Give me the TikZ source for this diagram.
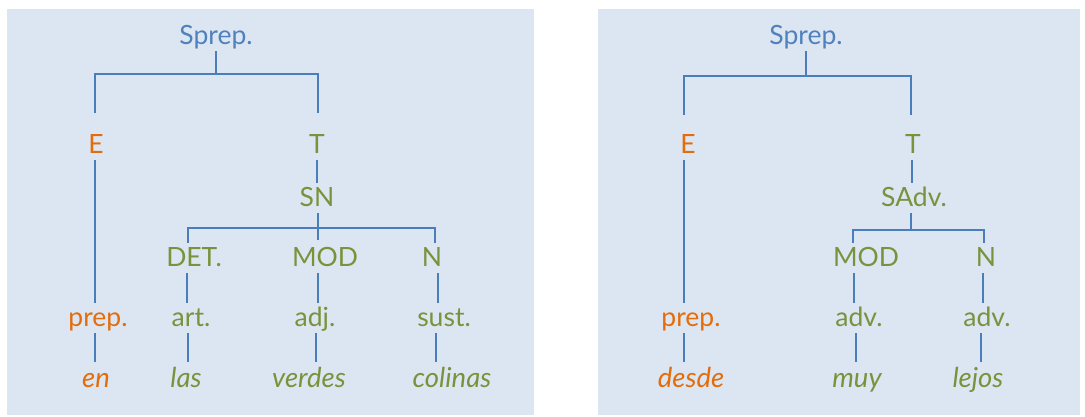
\documentclass[tikz,border=0pt]{standalone}
\usepackage{fontspec}
\setmainfont{Lato}
\definecolor{bgpanel}{HTML}{DCE6F2}
\definecolor{lineblue}{HTML}{4A7EBB}
\definecolor{txtblue}{HTML}{4F81BD}
\definecolor{txtorange}{HTML}{E46C0A}
\definecolor{txtgreen}{HTML}{77933C}
\tikzset{
  lbl/.style={anchor=base, inner sep=0pt, text height=23pt, text depth=7pt, font=\fontsize{26.5}{30}\selectfont},
  rootlbl/.style={lbl, text=txtblue},
  orlbl/.style={lbl, text=txtorange},
  grlbl/.style={lbl, text=txtgreen},
  orword/.style={orlbl, font=\fontsize{27.5}{30}\selectfont\itshape},
  grword/.style={grlbl, font=\fontsize{27.5}{30}\selectfont\itshape},
  ln/.style={draw=lineblue, line width=1.2pt}
}
\begin{document}
\begin{tikzpicture}[x=1pt,y=-1pt]
\useasboundingbox (0,0) rectangle (1085,416);
\fill[white] (0,0) rectangle (1085,416);
\fill[bgpanel] (7,9) rectangle (534,415);
\fill[bgpanel] (598,9) rectangle (1080,415);

% ---------- left tree ----------
\node[rootlbl] (sprepL) at (216,44) {Sprep.};
\node[orlbl] (EL) at (96,153) {E};
\node[grlbl] (TL) at (317,153) {T};
\node[grlbl] (SNL) at (317,206) {SN};
\node[grlbl] (detL) at (194,266) {DET.};
\node[grlbl] (modL) at (325,266) {MOD};
\node[grlbl] (nL) at (432,266) {N};
\node[orlbl] (prepL) at (98,326) {prep.};
\node[grlbl] (artL) at (191,326) {art.};
\node[grlbl] (adjL) at (315,326) {adj.};
\node[grlbl] (sustL) at (444,326) {sust.};
\node[orword] (enL) at (96,387) {en};
\node[grword] (lasL) at (186,387) {las};
\node[grword] (verdesL) at (309,387) {verdes};
\node[grword] (colinasL) at (452,387) {colinas};

\coordinate (jL) at (216,74);
\coordinate (kL) at (318,228);
\draw[ln] (sprepL.south) -- (jL);
\draw[ln] ([xshift=-1pt,yshift=17pt]EL.north) |- (jL) -| ([xshift=1pt,yshift=17pt]TL.north);
\draw[ln] ([xshift=-1pt]EL.south) -- ([xshift=-3pt]prepL.north);
\draw[ln] (TL.south) -- (SNL.north);
\draw[ln] ([xshift=1pt]SNL.south) -- ([xshift=-7pt,yshift=3pt]modL.north);
\draw[ln] ([xshift=-6pt]detL.north) |- (kL) -| ([xshift=3pt]nL.north);
\draw[ln] ([xshift=-7pt]detL.south) -- ([xshift=-4pt]artL.north);
\draw[ln] ([xshift=-7pt]modL.south) -- ([xshift=3pt]adjL.north);
\draw[ln] ([xshift=6pt]nL.south) -- ([xshift=-6pt]sustL.north);
\draw[ln] ([xshift=-3pt]prepL.south) -- ([xshift=-1pt,yshift=2pt]enL.north);
\draw[ln] ([xshift=-3pt]artL.south) -- ([xshift=2pt,yshift=2pt]lasL.north);
\draw[ln] ([xshift=1pt]adjL.south) -- ([xshift=7pt,yshift=2pt]verdesL.north);
\draw[ln] ([xshift=-8pt]sustL.south) -- ([xshift=-16pt,yshift=2pt]colinasL.north);

% ---------- right tree ----------
\node[rootlbl] (sprepR) at (806,44) {Sprep.};
\node[orlbl] (ER) at (688,153) {E};
\node[grlbl] (TR) at (913,153) {T};
\node[grlbl] (sadvR) at (914,206) {SAdv.};
\node[grlbl] (modR) at (866,266) {MOD};
\node[grlbl] (nR) at (986,266) {N};
\node[orlbl] (prepR) at (691,326) {prep.};
\node[grlbl] (advmR) at (859,326) {adv.};
\node[grlbl] (advnR) at (987,326) {adv.};
\node[orword] (desdeR) at (691,387) {desde};
\node[grword] (muyR) at (857,387) {muy};
\node[grword] (lejosR) at (978,387) {lejos};

\coordinate (jR) at (806,76);
\coordinate (kR) at (911,230);
\draw[ln] (sprepR.south) -- (jR);
\draw[ln] ([xshift=-4pt,yshift=15pt]ER.north) |- (jR) -| ([xshift=-2pt,yshift=15pt]TR.north);
\draw[ln] ([xshift=-4pt]ER.south) -- ([xshift=-7pt]prepR.north);
\draw[ln] ([xshift=-1pt]TR.south) -- ([xshift=-2pt]sadvR.north);
\draw[ln] ([xshift=-3pt]sadvR.south) -- (kR);
\draw[ln] ([xshift=-13pt]modR.north) |- (kR) -| ([xshift=-2pt]nR.north);
\draw[ln] ([xshift=-12pt]modR.south) -- ([xshift=-5pt]advmR.north);
\draw[ln] ([xshift=-3pt]nR.south) -- ([xshift=-4pt]advnR.north);
\draw[ln] ([xshift=-3pt]advmR.south) -- ([xshift=-1pt,yshift=2pt]muyR.north);
\draw[ln] ([xshift=-6pt]advnR.south) -- ([xshift=3pt,yshift=2pt]lejosR.north);
\draw[ln] ([xshift=-7pt]prepR.south) -- ([xshift=-7pt,yshift=2pt]desdeR.north);
\end{tikzpicture}
\end{document}
